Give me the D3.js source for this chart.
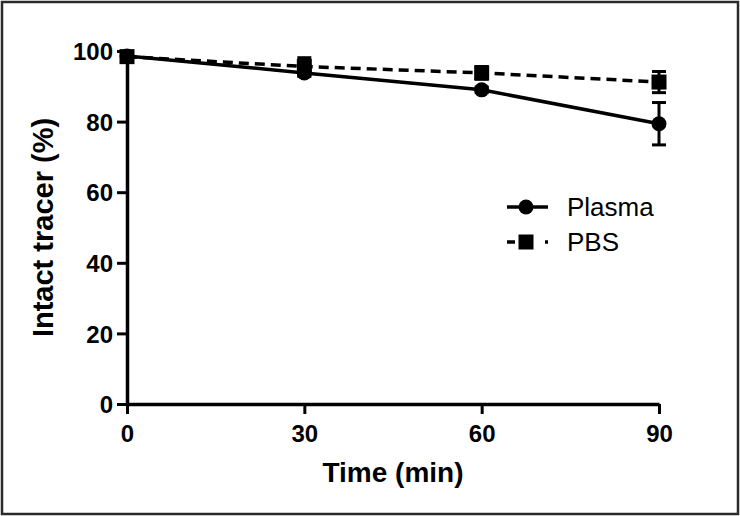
<!DOCTYPE html>
<html>
<head>
<meta charset="utf-8">
<script src="https://cdn.jsdelivr.net/npm/d3@7"></script>
<style>
  body { margin: 0; background: #fff; }
  svg text { font-family: "Liberation Sans", Arial, sans-serif; fill: #000; }
</style>
</head>
<body>
<div id="chart"></div>
<script>
var width = 740;
var height = 516;

// data
var times = [0, 30, 60, 90];
var plasma = [98.6, 93.8, 89.0, 79.4];
var plasmaErr = [0.8, 1.0, 0.8, 6.0];
var pbs = [98.4, 95.6, 93.8, 91.2];
var pbsErr = [0.8, 2.5, 1.8, 3.0];
var xTicks = [0, 30, 60, 90];
var yTicks = [0, 20, 40, 60, 80, 100];

var series = [
  {name: "Plasma", values: plasma, err: plasmaErr, shape: "circle", dash: null},
  {name: "PBS", values: pbs, err: pbsErr, shape: "square", dash: "10,6"}
];

var svg = d3.select("#chart")
  .append("svg")
    .attr("width", width)
    .attr("height", height);

// frame
svg.append("rect")
  .attr("x", 2).attr("y", 2)
  .attr("width", width - 4).attr("height", height - 4)
  .attr("fill", "none")
  .attr("stroke", "#2b2b2b")
  .attr("stroke-width", 2.5);

var x = d3.scaleLinear().domain([0, 90]).range([127, 659]);
var y = d3.scaleLinear().domain([0, 100]).range([404, 51]);

// axes
var xAxis = svg.append("g")
  .attr("transform", "translate(0," + y(0) + ")")
  .call(d3.axisBottom(x).tickValues(xTicks).tickSize(10).tickPadding(11).tickSizeOuter(0));
var yAxis = svg.append("g")
  .attr("transform", "translate(" + x(0) + ",0)")
  .call(d3.axisLeft(y).tickValues(yTicks).tickSize(10).tickPadding(4).tickSizeOuter(0));

[xAxis, yAxis].forEach(function(g){
  g.select(".domain").attr("stroke", "#000").attr("stroke-width", 3.5);
  g.selectAll(".tick line").attr("stroke", "#000").attr("stroke-width", 3);
  g.selectAll(".tick text")
    .style("font-family", "'Liberation Sans', Arial, sans-serif")
    .style("font-size", "24px")
    .style("font-weight", "bold")
    .attr("fill", "#000");
});
yAxis.selectAll(".tick text").attr("dy", "0.36em");

// axis titles
svg.append("text")
  .attr("x", (x(0) + x(90)) / 2)
  .attr("y", 482)
  .attr("text-anchor", "middle")
  .style("font-size", "28px")
  .style("font-weight", "bold")
  .text("Time (min)");

svg.append("text")
  .attr("transform", "translate(53," + ((y(0) + y(100)) / 2) + ") rotate(-90)")
  .attr("text-anchor", "middle")
  .style("font-size", "29px")
  .style("font-weight", "bold")
  .text("Intact tracer (%)");

var line = d3.line()
  .x(function(d, i){ return x(times[i]); })
  .y(function(d){ return y(d); });

function drawMarker(g, shape, cx, cy){
  if (shape === "circle") {
    g.append("circle").attr("cx", cx).attr("cy", cy).attr("r", 7.5).attr("fill", "#000");
  } else {
    g.append("rect").attr("x", cx - 7.5).attr("y", cy - 7.5)
      .attr("width", 15).attr("height", 15).attr("fill", "#000");
  }
}

// PBS first so plasma sits on top like the reference
series.slice().reverse().forEach(function(s){
  var g = svg.append("g");
  g.append("path")
    .datum(s.values)
    .attr("d", line)
    .attr("fill", "none")
    .attr("stroke", "#000")
    .attr("stroke-width", 3.5)
    .attr("stroke-dasharray", s.dash);
  s.values.forEach(function(v, i){
    var cx = x(times[i]);
    var top = y(v + s.err[i]), bot = y(v - s.err[i]);
    g.append("line").attr("x1", cx).attr("x2", cx).attr("y1", top).attr("y2", bot)
      .attr("stroke", "#000").attr("stroke-width", 3);
    [top, bot].forEach(function(yy){
      g.append("line").attr("x1", cx - 7).attr("x2", cx + 7).attr("y1", yy).attr("y2", yy)
        .attr("stroke", "#000").attr("stroke-width", 3);
    });
    drawMarker(g, s.shape, cx, y(v));
  });
});

// legend
var legend = svg.append("g");
series.forEach(function(s, i){
  var ly = 207 + i * 35;
  legend.append("line")
    .attr("x1", 507).attr("x2", 548).attr("y1", ly).attr("y2", ly)
    .attr("stroke", "#000").attr("stroke-width", 3.5)
    .attr("stroke-dasharray", s.dash ? "8,30,3,10" : null);
  drawMarker(legend, s.shape, 526, ly);
  legend.append("text")
    .attr("x", 567).attr("y", ly)
    .attr("dy", "0.36em")
    .style("font-size", "26px")
    .text(s.name);
});
</script>
</body>
</html>
